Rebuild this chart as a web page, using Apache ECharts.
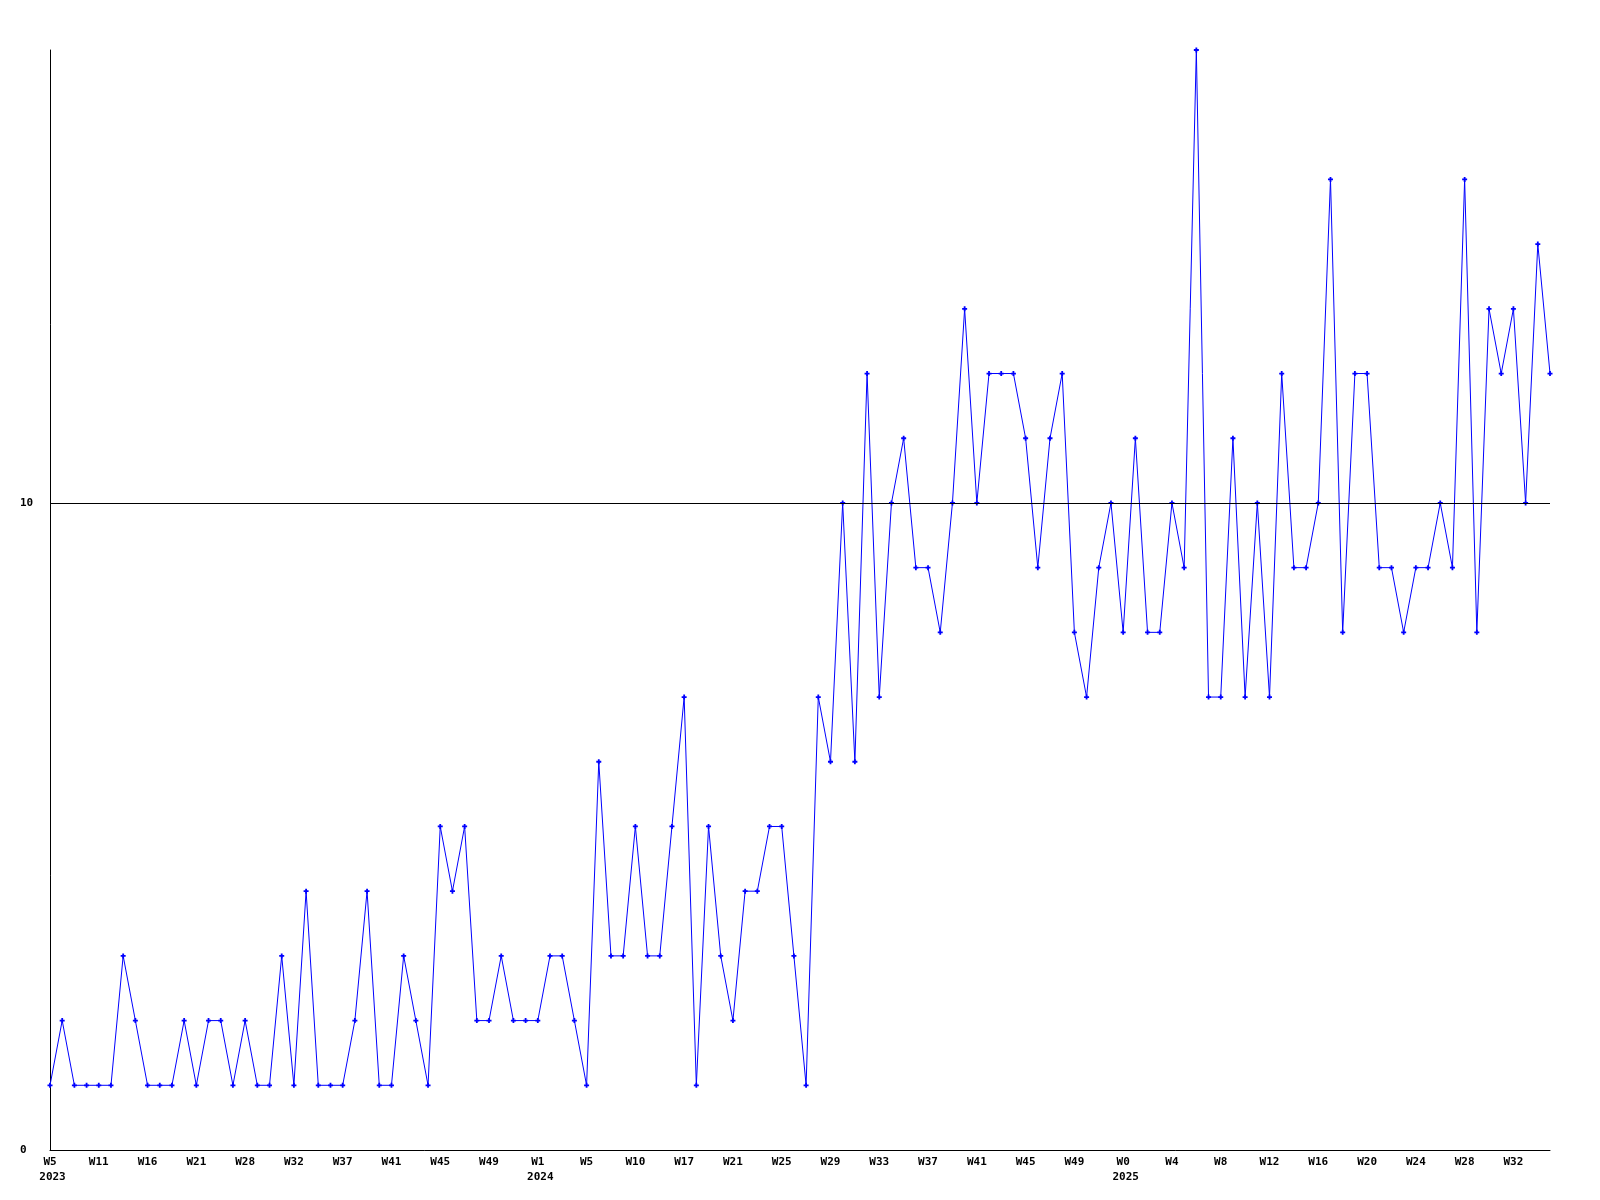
<!DOCTYPE html>
<html>
<head>
<meta charset="utf-8">
<script src="https://cdn.jsdelivr.net/npm/echarts@6/dist/echarts.min.js"></script>
<style>
html,body{margin:0;padding:0;background:#fff;}
#chart{width:1600px;height:1200px;}
</style>
</head>
<body>
<div id="chart"></div>
<script>
// Weekly values (124 points)
const values = [
  1,2,1,1,1,1,3,2,1,1,1,2,1,2,2,1,2,1,1,3,
  1,4,1,1,1,2,4,1,1,3,2,1,5,4,5,2,2,3,2,2,
  2,3,3,2,1,6,3,3,5,3,3,5,7,1,5,3,2,4,4,5,
  5,3,1,7,6,10,6,12,7,10,11,9,9,8,10,13,10,12,12,12,
  11,9,11,12,8,7,9,10,8,11,8,8,10,9,17,7,7,11,7,10,
  7,12,9,9,10,15,8,12,12,9,9,8,9,9,10,9,15,8,13,12,
  13,10,14,12
];
// Tick labels shown every 4th point
const tickLabels = [
  'W5','W11','W16','W21','W28','W32','W37','W41','W45','W49',
  'W1','W5','W10','W17','W21','W25','W29','W33','W37','W41',
  'W45','W49','W0','W4','W8','W12','W16','W20','W24','W28','W32'
];
// Year sub-labels (by tick label index)
const yearLabels = {0:'2023', 10:'2024', 22:'2025'};
const yTickLabels = {0:'0', 10:'10'};
const referenceLevel = 10;

const categories = values.map((v, i) => 'p' + i);

const chart = echarts.init(document.getElementById('chart'), null, {renderer:'canvas'});
const font = '"DejaVu Sans Mono", "Liberation Mono", monospace';
chart.setOption({
  animation: false,
  backgroundColor: '#ffffff',
  grid: {left: 50, right: 50, top: 50, bottom: 50, containLabel: false},
  xAxis: {
    type: 'category',
    data: categories,
    boundaryGap: false,
    axisLine: {show: true, lineStyle: {color: '#000', width: 1}},
    axisTick: {show: false},
    splitLine: {show: false},
    axisLabel: {
      interval: 3,
      margin: 5,
      color: '#000',
      fontFamily: font,
      fontSize: 11,
      fontWeight: 'bold',
      lineHeight: 15,
      formatter: function (val, idx) {
        const k = Math.round(idx / 4);
        const t = tickLabels[k] || '';
        if (yearLabels[k]) return '{w|' + t + '}\n{y|' + yearLabels[k] + '}';
        return '{w|' + t + '}';
      },
      rich: {
        w: {fontFamily: font, fontSize: 11, fontWeight: 'bold', color: '#000', lineHeight: 15},
        y: {fontFamily: font, fontSize: 11, fontWeight: 'bold', color: '#000', lineHeight: 15, padding: [0, 0, 0, 5]}
      }
    }
  },
  yAxis: {
    type: 'value',
    min: 0,
    max: 17,
    interval: 10,
    axisLine: {show: true, lineStyle: {color: '#000', width: 1}},
    axisTick: {show: false},
    splitLine: {show: false},
    axisLabel: {
      showMaxLabel: false,
      align: 'left',
      margin: 30,
      color: '#000',
      fontFamily: font,
      fontSize: 11,
      fontWeight: 'bold',
      formatter: function (v) { return yTickLabels[v] !== undefined ? yTickLabels[v] : ''; }
    }
  },
  series: [{
    type: 'line',
    data: values,
    symbol: 'path://M1.6,0H3.4V1.6H5V3.4H3.4V5H1.6V3.4H0V1.6H1.6Z',
    symbolSize: 5,
    showSymbol: true,
    showAllSymbol: true,
    lineStyle: {color: '#0000ff', width: 1},
    itemStyle: {color: '#0000ff', borderWidth: 0},
    emphasis: {disabled: true},
    markLine: {
      silent: true,
      symbol: ['none', 'none'],
      label: {show: false},
      lineStyle: {color: '#000', width: 1, type: 'solid'},
      data: [{yAxis: referenceLevel}]
    }
  }]
});
</script>
</body>
</html>
